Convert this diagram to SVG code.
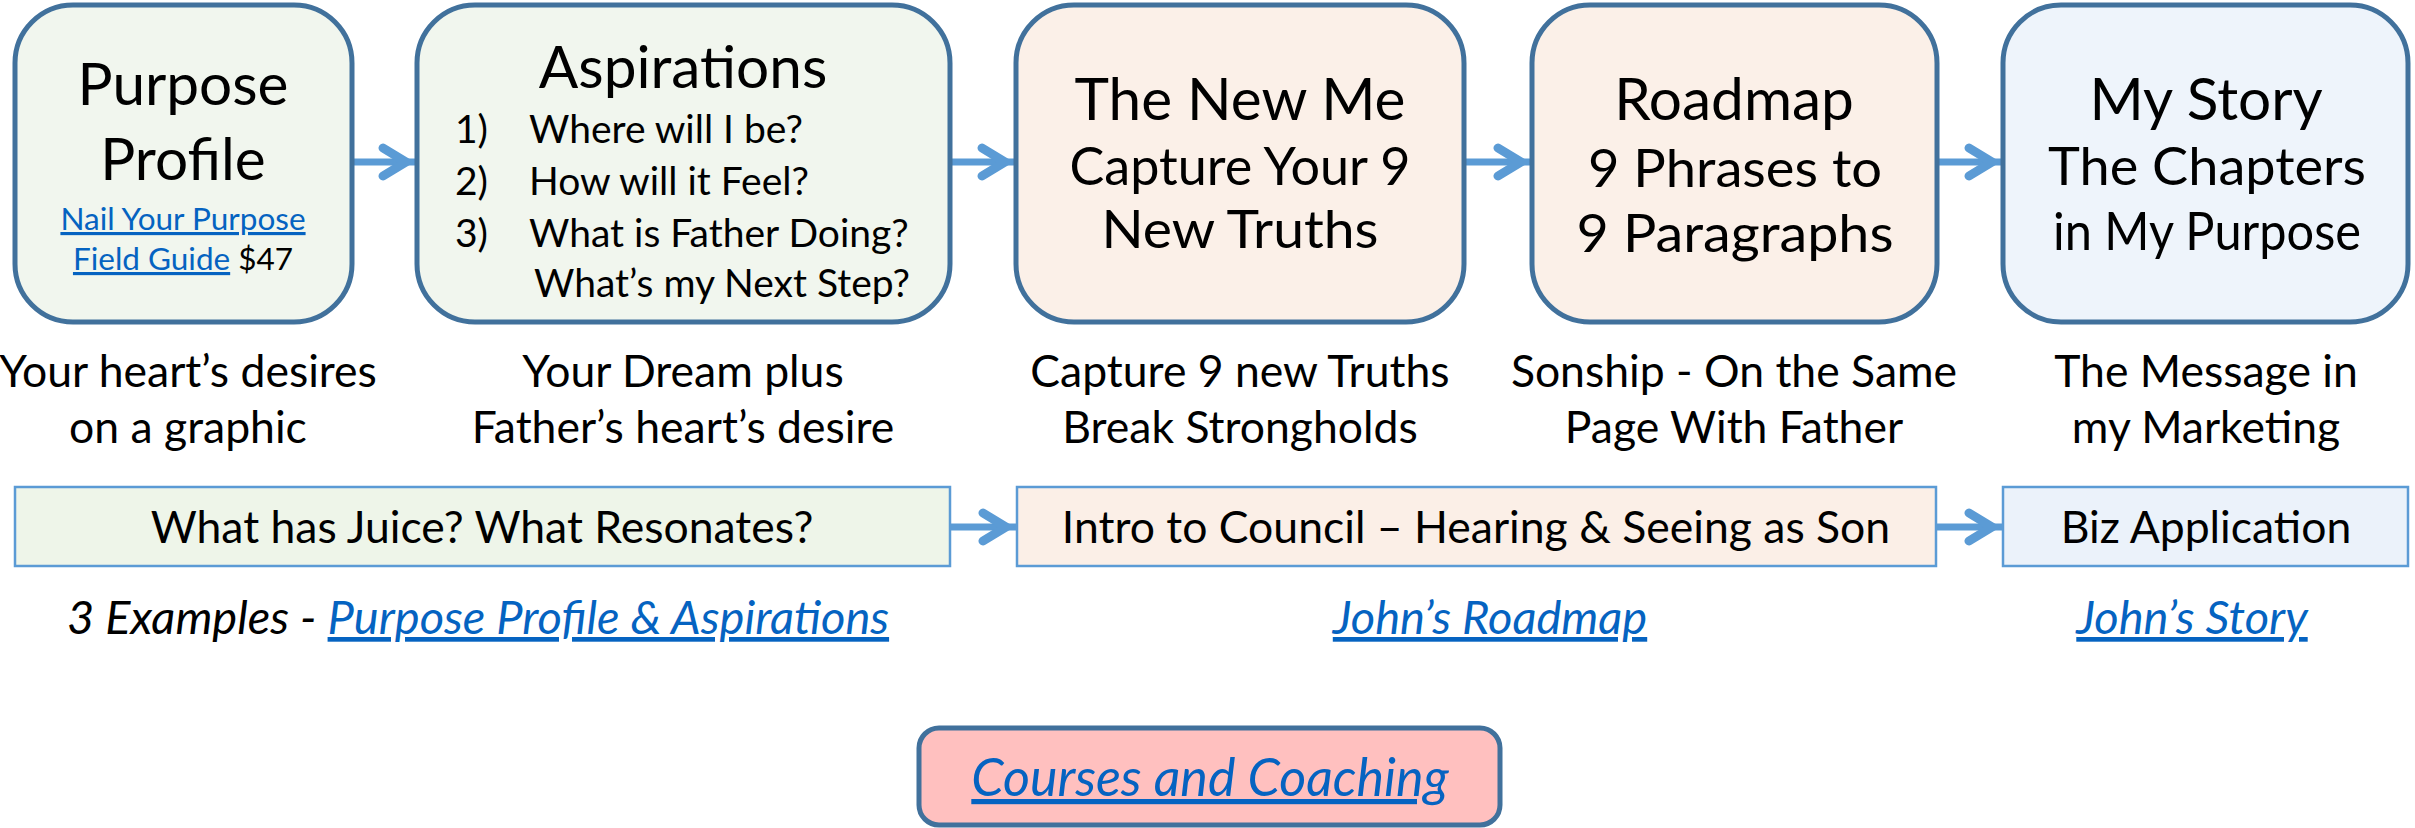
<svg xmlns="http://www.w3.org/2000/svg" width="2415" height="828" viewBox="0 0 2415 828">
<style>
text{font-family:Lato,"Liberation Sans",sans-serif;fill:#000}
.node{stroke:#41719C;stroke-width:5}
.g{fill:#F1F6EE}.p{fill:#FBF0E8}.b{fill:#EEF4FB}
.t{font-size:58.5px;text-anchor:middle}
.h{font-size:52px;text-anchor:middle}
.li{font-size:39px}
.cap{font-size:44.5px;text-anchor:middle}
.bar{stroke:#5B9BD5;stroke-width:2.5}
.bt{font-size:44.5px;text-anchor:middle}
.it{font-size:47px;font-style:italic;text-anchor:middle}
.big{font-size:52px}
.lk{fill:#0563C1;text-decoration:underline}
.conn{stroke:#5B9BD5;stroke-width:7;fill:none;marker-end:url(#ah)}
</style>
<defs>
<marker id="ah" markerUnits="userSpaceOnUse" markerWidth="60" markerHeight="50" viewBox="-50 -25 60 50" refX="0" refY="0" orient="auto" overflow="visible">
<path d="M-33,-14 L-10,0 L-33,14" fill="none" stroke="#5B9BD5" stroke-width="9" stroke-linecap="round" stroke-linejoin="miter"/>
</marker>
</defs>
<rect width="2415" height="828" fill="#FFFFFF"/>
<g id="connectors">
<path class="conn" d="M352,162 H416"/>
<path class="conn" d="M950,162 H1015"/>
<path class="conn" d="M1464,162 H1531"/>
<path class="conn" d="M1937,162 H2002"/>
<path class="conn" d="M950,527 H1016"/>
<path class="conn" d="M1936,527 H2002"/>
</g>
<g id="purpose-profile">
<rect class="node g" x="15" y="5" width="337" height="317" rx="58"/>
<text class="t" x="183" y="105">Purpose</text>
<text class="t" x="183" y="180">Profile</text>
<text x="183" y="230" font-size="31.5" text-anchor="middle" class="lk">Nail Your Purpose</text>
<text x="183" y="270" font-size="31.5" text-anchor="middle"><tspan class="lk">Field Guide</tspan> $47</text>
</g>
<g id="aspirations">
<rect class="node g" x="417" y="5" width="533" height="317" rx="58"/>
<text class="t" x="683" y="88">Aspirations</text>
<text class="li" x="455" y="143">1)</text><text class="li" x="529" y="143">Where will I be?</text>
<text class="li" x="455" y="195">2)</text><text class="li" x="529" y="195">How will it Feel?</text>
<text class="li" x="455" y="247">3)</text><text class="li" x="529" y="247">What is Father Doing?</text>
<text class="li" x="534" y="297">What’s my Next Step?</text>
</g>
<g id="new-me">
<rect class="node p" x="1016" y="5" width="448" height="317" rx="58"/>
<text class="t" x="1240" y="120">The New Me</text>
<text class="h" x="1240" y="185" textLength="341" lengthAdjust="spacingAndGlyphs">Capture Your 9</text>
<text class="h" x="1240" y="248" textLength="277" lengthAdjust="spacingAndGlyphs">New Truths</text>
</g>
<g id="roadmap">
<rect class="node p" x="1532" y="5" width="405" height="317" rx="58"/>
<text class="t" x="1734" y="120">Roadmap</text>
<text class="h" x="1735" y="187" textLength="294" lengthAdjust="spacingAndGlyphs">9 Phrases to</text>
<text class="h" x="1735" y="252" textLength="317" lengthAdjust="spacingAndGlyphs">9 Paragraphs</text>
</g>
<g id="my-story">
<rect class="node b" x="2003" y="5" width="405" height="317" rx="58"/>
<text class="t" x="2206" y="120">My Story</text>
<text class="h" x="2207" y="185" textLength="318" lengthAdjust="spacingAndGlyphs">The Chapters</text>
<text class="h" x="2207" y="250" textLength="308" lengthAdjust="spacingAndGlyphs">in My Purpose</text>
</g>
<g id="captions">
<text class="cap" x="188" y="387">Your heart’s desires</text>
<text class="cap" x="188" y="443">on a graphic</text>
<text class="cap" x="683" y="387">Your Dream plus</text>
<text class="cap" x="683" y="443">Father’s heart’s desire</text>
<text class="cap" x="1240" y="387">Capture 9 new Truths</text>
<text class="cap" x="1240" y="443">Break Strongholds</text>
<text class="cap" x="1734" y="387">Sonship - On the Same</text>
<text class="cap" x="1734" y="443">Page With Father</text>
<text class="cap" x="2206" y="387">The Message in</text>
<text class="cap" x="2206" y="443">my Marketing</text>
</g>
<g id="juice">
<rect class="bar" x="15" y="487" width="935" height="79" fill="#EEF5E9"/>
<text class="bt" x="482" y="543">What has Juice? What Resonates?</text>
</g>
<g id="council">
<rect class="bar" x="1017" y="487" width="919" height="79" fill="#FBEFE7"/>
<text class="bt" x="1476" y="543">Intro to Council – Hearing &amp; Seeing as Son</text>
</g>
<g id="biz">
<rect class="bar" x="2003" y="487" width="405" height="79" fill="#EBF2FA"/>
<text class="bt" x="2206" y="543">Biz Application</text>
</g>
<g id="links">
<text class="it" x="478" y="634">3 Examples - <tspan class="lk">Purpose Profile &amp; Aspirations</tspan></text>
<text class="it lk" x="1490" y="634">John’s Roadmap</text>
<text class="it lk" x="2192" y="634">John’s Story</text>
</g>
<g id="courses">
<rect x="919" y="728" width="581" height="97" rx="20" fill="#FFC0BF" stroke="#41719C" stroke-width="5"/>
<text class="it lk big" x="1210" y="796">Courses and Coaching</text>
</g>
</svg>
